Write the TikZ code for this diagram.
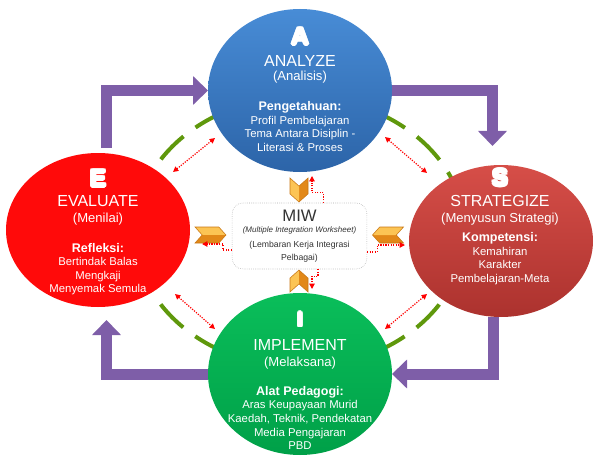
\documentclass[tikz,border=0pt]{standalone}
\usepackage{fontspec}
\setmainfont{Liberation Sans}
\usetikzlibrary{shapes.geometric,arrows.meta,calc,backgrounds}

\definecolor{anaBlueTop}{RGB}{72,140,214}
\definecolor{anaBlueBot}{RGB}{44,100,168}
\definecolor{evaRed}{RGB}{255,10,10}
\definecolor{strRedTop}{RGB}{214,78,72}
\definecolor{strRedBot}{RGB}{172,50,46}
\definecolor{impGreenTop}{RGB}{10,190,90}
\definecolor{impGreenBot}{RGB}{0,160,72}
\definecolor{cyclePurple}{RGB}{126,94,168}
\definecolor{ringGreen}{RGB}{95,152,12}
\definecolor{chevLight}{RGB}{252,196,84}
\definecolor{chevDark}{RGB}{226,136,24}
\definecolor{chevEdge}{RGB}{200,118,20}

\newcommand{\letterfont}{\fontsize{18}{18}\selectfont\bfseries}
\newcommand{\titlefont}{\fontsize{12}{12}\selectfont}
\newcommand{\subfont}{\fontsize{9.8}{10}\selectfont}
\newcommand{\headfont}{\fontsize{9.4}{10}\selectfont\bfseries}
\newsavebox{\outlbox}
\newcommand{\outl}[1]{\sbox{\outlbox}{#1}%
  \foreach \ang in {0,45,...,315}{\rlap{\pgfmathsetlengthmacro{\ox}{1.1pt*cos(\ang)}\pgfmathsetlengthmacro{\oy}{1.1pt*sin(\ang)}\kern\ox\raisebox{\oy}{\textcolor{black}{\usebox{\outlbox}}}}}%
  \usebox{\outlbox}}

\begin{document}
\begin{tikzpicture}[x=0.75pt,y=0.75pt,yscale=-1,xscale=1,
  phase/.style={ellipse,minimum width=138pt,inner sep=0pt,outer sep=0pt},
  phasetext/.style={text=white,align=center,anchor=north,inner sep=0pt,font=\fontsize{8.5}{10.2}\selectfont},
  cyclearrow/.style={draw=cyclePurple,line width=8.25pt,line join=miter,-{Triangle[length=11.25pt,width=21pt]}},
  linkarrow/.style={red,densely dotted,line width=0.9pt,{Triangle[length=4pt,width=4pt]}-{Triangle[length=4pt,width=4pt]}},
  miwarrow/.style={red,densely dotted,line width=0.9pt,-{Triangle[length=4pt,width=4pt]}},
  ring/.style={draw=ringGreen,line width=3pt,dash pattern=on 24.2pt off 11.25pt,dash phase=12.1pt}]
\useasboundingbox (0,0) rectangle (600,467);

% the four phases
\node[phase,minimum height=122.25pt,top color=anaBlueTop,bottom color=anaBlueBot] (analyze) at (300,90.5) {};
\node[phase,minimum height=115.5pt,fill=evaRed] (evaluate) at (98,230) {};
\node[phase,minimum height=114pt,top color=strRedTop,bottom color=strRedBot] (strategize) at (501,241) {};
\node[phase,minimum height=121.5pt,top color=impGreenTop,bottom color=impGreenBot] (implement) at (300,374) {};

% ring and cycle arrows behind the phases
\begin{scope}[on background layer]
\draw[ring] (300,232) ellipse [x radius=165, y radius=135];
\draw[cyclearrow] ($(evaluate.north)+(8,-5)$) |- (analyze.west);
\draw[cyclearrow] (analyze.east) -| ($(strategize.north)+(-8.5,-19)$);
\draw[cyclearrow] ($(strategize.south)+(-7.5,0)$) |- (implement.east);
\draw[cyclearrow] (implement.west) -| ($(evaluate.south)+(8.5,13)$);
\end{scope}

% texts
\node[phasetext] (analyzeText) at (300,26.5) {{\letterfont\outl{A}}\\[5.8pt]
{\titlefont ANALYZE}\\[0.8pt]
{\subfont (Analisis)}\\[12.2pt]
{\headfont Pengetahuan:}\\
Profil Pembelajaran\\
Tema Antara Disiplin -\\
Literasi \& Proses};
\node[phasetext] (evaluateText) at (98,168.3) {{\letterfont\outl{E}}\\[4.8pt]
{\titlefont EVALUATE}\\[1.5pt]
{\subfont (Menilai)}\\[12.3pt]
{\headfont Refleksi:}\\
Bertindak Balas\\
Mengkaji\\
Menyemak Semula};
\node[phasetext] (strategizeText) at (500,167.5) {{\letterfont\outl{S}}\\[5.3pt]
{\titlefont STRATEGIZE}\\[2pt]
{\subfont (Menyusun Strategi)}\\[3.8pt]
{\headfont Kompetensi:}\\
Kemahiran\\
Karakter\\
Pembelajaran-Meta};
\node[phasetext] (implementText) at (300,310.7) {{\fontsize{15}{15}\selectfont\bfseries\outl{I}}\\[8pt]
{\titlefont IMPLEMENT}\\[2pt]
{\subfont (Melaksana)}\\[11.2pt]
{\headfont Alat Pedagogi:}\\
Aras Keupayaan Murid\\
Kaedah, Teknik, Pendekatan\\
Media Pengajaran\\
PBD};

% centre box
\node[draw=gray!70,densely dotted,rounded corners=8pt,minimum width=101pt,minimum height=49.5pt,
  align=center,inner sep=0pt,fill=white,text=black!80,font=\fontsize{6.5}{9.75}\selectfont] (miw) at (299.5,236)
  {{\fontsize{12.5}{12.5}\selectfont MIW}\\[-1.65pt]
   {\fontsize{6}{7}\selectfont\itshape (Multiple Integration Worksheet)}\\[1.15pt]
   (Lembaran Kerja Integrasi\\
   Pelbagai)};

% chevrons into the centre box
\foreach \cx/\cy/\rot/\len/\wid/\ca/\cb in {299/190/90/24/18/chevDark/chevLight, 210.5/235/0/31/16/chevLight/chevDark,
  388/235/180/31/16/chevDark/chevLight, 299/281/-90/22/18/chevLight/chevDark}{
  \begin{scope}[shift={(\cx,\cy)},rotate=\rot]
    \pgfmathsetmacro{\hl}{\len/2}
    \pgfmathsetmacro{\hw}{\wid/2}
    \pgfmathsetmacro{\dd}{0.45*\wid}
    \fill[\ca] (-\hl,-\hw) -- (\hl-\dd,-\hw) -- (\hl,0) -- (-\hl+\dd,0) -- cycle;
    \fill[\cb] (-\hl+\dd,0) -- (\hl,0) -- (\hl-\dd,\hw) -- (-\hl,\hw) -- cycle;
    \draw[chevEdge,line width=0.4pt,line join=miter] (-\hl,-\hw) -- (\hl-\dd,-\hw) -- (\hl,0) -- (\hl-\dd,\hw) -- (-\hl,\hw) -- (-\hl+\dd,0) -- cycle;
  \end{scope}
}

% dotted links between phases
\draw[linkarrow] ($(evaluate)+(75,-58)$) -- ($(analyze)+(-85,47.5)$);
\draw[linkarrow] ($(analyze)+(85,46.5)$) -- ($(strategize)+(-74,-68)$);
\draw[linkarrow] ($(evaluate)+(77,64)$) -- ($(implement)+(-85,-45)$);
\draw[linkarrow] ($(strategize)+(-74,53)$) -- ($(implement)+(85,-45)$);

% dotted links out of the centre box
\draw[miwarrow] ($(miw.north)+(24,0)$) -- ++(0,-10) -| ($(analyze.south)+(12,4)$);
\draw[miwarrow] ($(miw.west)+(0,14)$) -- ++(-9,0) |- ($(evaluate.east)+(12,14)$);
\draw[miwarrow] ($(miw.east)+(0,16)$) -- ++(10,0) |- ($(strategize.west)+(-4,4)$);
\draw[miwarrow] ($(miw.south)+(18.5,0)$) -- ++(0,7) -| ($(implement.north)+(12,-4)$);

\end{tikzpicture}
\end{document}
